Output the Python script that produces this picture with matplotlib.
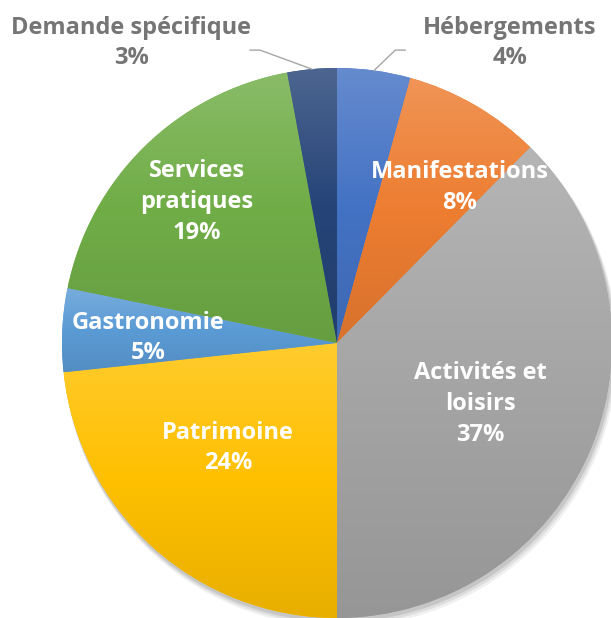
import numpy as np
import matplotlib.pyplot as plt
from matplotlib.colors import LinearSegmentedColormap, to_rgb
from matplotlib.patches import Circle

plt.rcParams['font.family'] = ['Open Sans', 'DejaVu Sans']

categories = ['Hébergements', 'Manifestations', 'Activités et\nloisirs', 'Patrimoine',
              'Gastronomie', 'Services\npratiques', 'Demande spécifique']
values = [4.3, 8.1, 37.6, 23.3, 4.9, 18.9, 2.9]
pct_labels = ['4%', '8%', '37%', '24%', '5%', '19%', '3%']

colors = ['#4472C4', '#ED7D31', '#A5A5A5', '#FFC000', '#5B9BD5', '#70AD47', '#264478']

# label centres (data units, pie radius = 1) and whether they sit outside
label_pos = [(0.629, 1.091), (0.447, 0.564), (0.52, -0.222), (-0.396, -0.382),
             (-0.687, 0.018), (-0.509, 0.513), (-0.749, 1.091)]
outside = [True, False, False, False, False, False, True]

fig = plt.figure(figsize=(6.11, 6.18), dpi=100)
ax = fig.add_axes([0, 0, 1, 1])

# soft shadow
for k, a in zip([0.025, 0.018, 0.011], [0.06, 0.08, 0.10]):
    ax.add_patch(Circle((k * 0.5, -k), 1.0 + k * 0.3, color='black', alpha=a, lw=0, zorder=0))

wedges, _ = ax.pie(values, colors=colors, startangle=90, counterclock=False,
                   radius=1, wedgeprops=dict(linewidth=0))

# vertical gradient on each slice: lighter on top, darker below
grad = np.linspace(0, 1, 256).reshape(-1, 1)
for w, c in zip(wedges, colors):
    r, g, b = to_rgb(c)
    top = tuple(min(1, v + (1 - v) * 0.18) for v in (r, g, b))
    bot = tuple(v * 0.91 for v in (r, g, b))
    cmap = LinearSegmentedColormap.from_list('g', [bot, c, top])
    bb = w.get_path().get_extents()
    im = ax.imshow(grad, cmap=cmap, origin='lower',
                   extent=(bb.x0, bb.x1, bb.y0, bb.y1), aspect='auto', zorder=1.5)
    im.set_clip_path(w)

for i, (name, pct) in enumerate(zip(categories, pct_labels)):
    x, y = label_pos[i]
    col = '#757575' if outside[i] else 'white'
    ax.text(x, y, name + '\n' + pct, ha='center', va='center', fontsize=17,
            fontweight='bold', color=col, linespacing=1.38, zorder=5)

# leader lines for outside labels (anchored on the slice mid angles)
cum = np.cumsum([0] + values)
for i, (hx, tx) in [(0, (0.212, 0.248)), (6, (-0.28, -0.316))]:
    mid = 90 - 360 * (cum[i] + cum[i + 1]) / 2 / sum(values)
    ex, ey = np.cos(np.radians(mid)), np.sin(np.radians(mid))
    ly = 1.065
    ax.plot([ex, hx, tx], [ey, ly, ly], color='#a6a6a6', lw=1, zorder=4)

ax.set_xlim(-337 / 275, (611 - 337) / 275)
ax.set_ylim((343 - 618) / 275, 343 / 275)
ax.set_aspect('auto')
ax.axis('off')

fig.savefig('out.png', dpi=100)
